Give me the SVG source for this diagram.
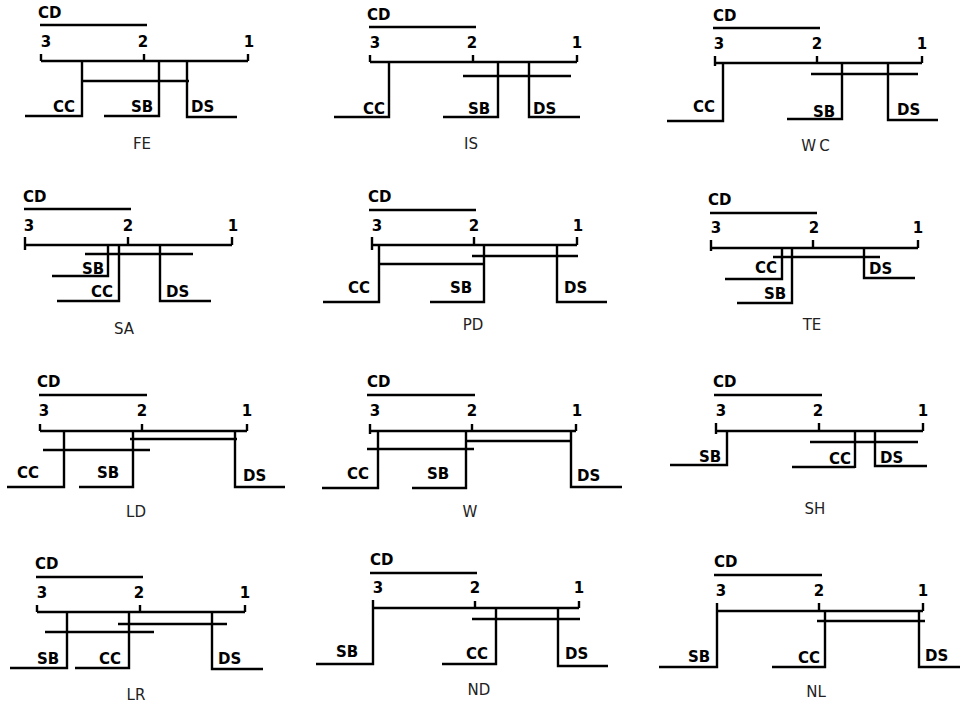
<svg xmlns="http://www.w3.org/2000/svg" width="961" height="705" viewBox="0 0 961 705">
<style>
.ln{stroke:#000;stroke-width:2.4;fill:none}
.lb{font-family:"DejaVu Sans",sans-serif;font-weight:bold;font-size:15px;fill:#000}
.nm{font-family:"DejaVu Sans",sans-serif;font-weight:bold;font-size:15px;fill:#000;text-anchor:middle}
.cp{font-family:"DejaVu Sans",sans-serif;font-size:15px;fill:#222;text-anchor:middle}
</style>
<rect width="961" height="705" fill="#fff"/>

<g id="FE">
<g class="connectors"><path class="ln" d="M40 25H147M41 61H248M41 54V61M144 54V61M248 54V61M82 81H189M82 61V116H25M159 61V116H104M187 61V117H237"/></g>
<text class="lb" x="38" y="18">CD</text>
<text class="nm" x="46" y="47">3</text><text class="nm" x="143" y="47">2</text><text class="nm" x="249" y="47">1</text>
<text class="lb" x="53" y="112">CC</text><text class="lb" x="131" y="112">SB</text><text class="lb" x="191" y="112">DS</text>
<text class="cp" x="142" y="149">FE</text>
</g>

<g id="IS">
<g class="connectors"><path class="ln" d="M369 27H476M370 62H577M370 55V62M473 55V62M577 55V62M463 76H571M389 62V117H334M498 62V117H443M529 62V117H580"/></g>
<text class="lb" x="367" y="20">CD</text>
<text class="nm" x="375" y="48">3</text><text class="nm" x="472" y="48">2</text><text class="nm" x="577" y="48">1</text>
<text class="lb" x="363" y="114">CC</text><text class="lb" x="468" y="114">SB</text><text class="lb" x="533" y="114">DS</text>
<text class="cp" x="471" y="149">IS</text>
</g>

<g id="WC">
<g class="connectors"><path class="ln" d="M713 28H820M715 63H922M715 56V66M817 56V63M922 56V63M811 74H918M723 63V121H667M842 63V119H787M888 63V120H938"/></g>
<text class="lb" x="713" y="21">CD</text>
<text class="nm" x="719" y="49">3</text><text class="nm" x="817" y="49">2</text><text class="nm" x="922" y="49">1</text>
<text class="lb" x="693" y="112">CC</text><text class="lb" x="813" y="117">SB</text><text class="lb" x="897" y="115">DS</text>
<text class="cp" x="817" y="151" letter-spacing="3">WC</text>
</g>

<g id="SA">
<g class="connectors"><path class="ln" d="M24 209H131M25 245H232M25 237V250M128 237V245M232 237V245M85 254H193M108 245V276H52M119 245V301H57M160 245V301H211"/></g>
<text class="lb" x="23" y="202">CD</text>
<text class="nm" x="29" y="231">3</text><text class="nm" x="128" y="231">2</text><text class="nm" x="233" y="231">1</text>
<text class="lb" x="82" y="274">SB</text><text class="lb" x="91" y="297">CC</text><text class="lb" x="166" y="297">DS</text>
<text class="cp" x="124" y="334">SA</text>
</g>

<g id="PD">
<g class="connectors"><path class="ln" d="M369 210H476M372 245H577M372 237V250M474 237V245M577 237V245M379 264H484M472 256H578M379 245V302H323M484 245V302H430M557 245V302H607"/></g>
<text class="lb" x="368" y="202">CD</text>
<text class="nm" x="377" y="231">3</text><text class="nm" x="474" y="231">2</text><text class="nm" x="578" y="231">1</text>
<text class="lb" x="348" y="293">CC</text><text class="lb" x="450" y="293">SB</text><text class="lb" x="564" y="293">DS</text>
<text class="cp" x="473" y="330">PD</text>
</g>

<g id="TE">
<g class="connectors"><path class="ln" d="M710 213H817M711 248H918M711 240V251M813 240V248M918 240V248M773 257H880M782 248V279H725M792 248V303H737M864 248V278H915"/></g>
<text class="lb" x="708" y="205">CD</text>
<text class="nm" x="716" y="233">3</text><text class="nm" x="814" y="233">2</text><text class="nm" x="918" y="233">1</text>
<text class="lb" x="755" y="273">CC</text><text class="lb" x="764" y="299">SB</text><text class="lb" x="869" y="274">DS</text>
<text class="cp" x="812" y="330">TE</text>
</g>

<g id="LD">
<g class="connectors"><path class="ln" d="M39 395H147M40 431H247M40 424V431M142 424V431M247 424V431M130 439H237M43 450H150M64 431V487H7M133 431V487H79M235 431V487H285"/></g>
<text class="lb" x="37" y="387">CD</text>
<text class="nm" x="44" y="416">3</text><text class="nm" x="142" y="416">2</text><text class="nm" x="247" y="416">1</text>
<text class="lb" x="17" y="478">CC</text><text class="lb" x="97" y="478">SB</text><text class="lb" x="243" y="481">DS</text>
<text class="cp" x="136" y="517">LD</text>
</g>

<g id="W">
<g class="connectors"><path class="ln" d="M367 395H475M370 431H576M370 424V434M472 424V431M576 424V431M466 441H571M367 449H474M378 431V488H322M466 431V488H412M571 431V487H622"/></g>
<text class="lb" x="367" y="387">CD</text>
<text class="nm" x="375" y="416">3</text><text class="nm" x="472" y="416">2</text><text class="nm" x="577" y="416">1</text>
<text class="lb" x="347" y="479">CC</text><text class="lb" x="427" y="479">SB</text><text class="lb" x="577" y="481">DS</text>
<text class="cp" x="470" y="517">W</text>
</g>

<g id="SH">
<g class="connectors"><path class="ln" d="M714 395H822M716 431H923M716 423V434M819 423V431M923 423V431M810 442H918M727 431V465H670M855 431V468M855 467H792M875 431V466H927"/></g>
<text class="lb" x="713" y="387">CD</text>
<text class="nm" x="721" y="416">3</text><text class="nm" x="818" y="416">2</text><text class="nm" x="923" y="416">1</text>
<text class="lb" x="699" y="462">SB</text><text class="lb" x="829" y="464">CC</text><text class="lb" x="880" y="463">DS</text>
<text class="cp" x="815" y="514">SH</text>
</g>

<g id="LR">
<g class="connectors"><path class="ln" d="M36 577H143M37 612H245M37 605V612M140 605V612M245 605V612M118 624H227M45 632H154M67 612V668H10M129 612V668H75M212 612V669H263"/></g>
<text class="lb" x="35" y="569">CD</text>
<text class="nm" x="42" y="598">3</text><text class="nm" x="139" y="598">2</text><text class="nm" x="245" y="598">1</text>
<text class="lb" x="37" y="664">SB</text><text class="lb" x="99" y="664">CC</text><text class="lb" x="218" y="664">DS</text>
<text class="cp" x="136" y="700">LR</text>
</g>

<g id="ND">
<g class="connectors"><path class="ln" d="M370 573H477M373 608H579M475 601V608M579 601V608M472 619H580M373 600V664H316M496 608V664H442M558 608V666H608"/></g>
<text class="lb" x="370" y="565">CD</text>
<text class="nm" x="378" y="593">3</text><text class="nm" x="475" y="593">2</text><text class="nm" x="579" y="593">1</text>
<text class="lb" x="336" y="657">SB</text><text class="lb" x="466" y="659">CC</text><text class="lb" x="565" y="659">DS</text>
<text class="cp" x="479" y="695">ND</text>
</g>

<g id="NL">
<g class="connectors"><path class="ln" d="M714 575H822M717 611H923M819 603V611M923 603V611M817 621H925M717 603V667H659M825 611V667H772M919 611V667H960"/></g>
<text class="lb" x="714" y="567">CD</text>
<text class="nm" x="721" y="596">3</text><text class="nm" x="819" y="596">2</text><text class="nm" x="923" y="596">1</text>
<text class="lb" x="688" y="662">SB</text><text class="lb" x="798" y="663">CC</text><text class="lb" x="925" y="661">DS</text>
<text class="cp" x="816" y="697">NL</text>
</g>
</svg>
